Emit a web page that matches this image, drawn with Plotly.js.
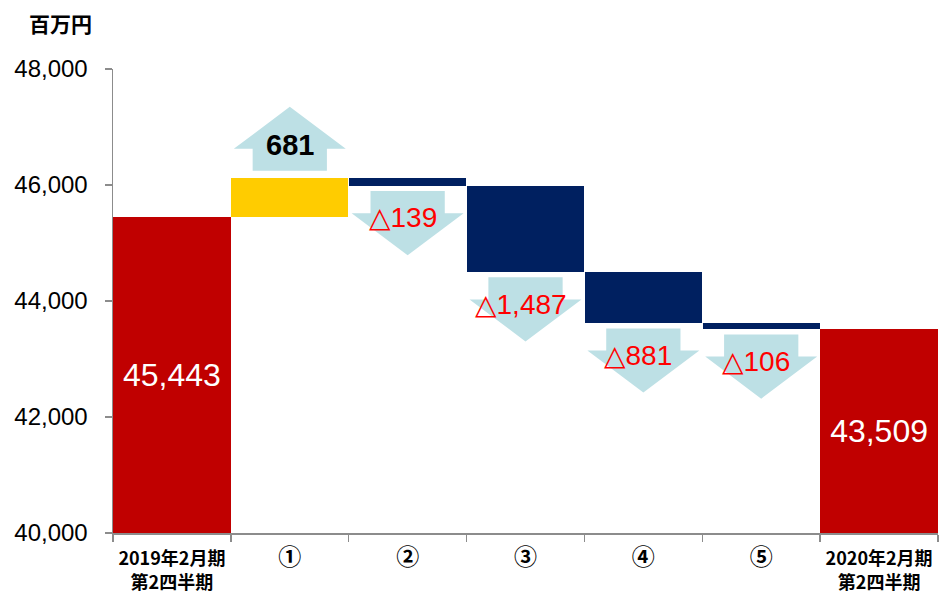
<!DOCTYPE html>
<html>
<head>
<meta charset="utf-8">
<script src="https://cdn.plot.ly/plotly-3.0.1.min.js"></script>
<style>html,body{margin:0;padding:0;background:#fff;}#chart{width:944px;height:592px;}</style>
</head>
<body>
<div id="chart"></div>
<script>
// ---- data ----
const categories = ['2019年2月期<br>第2四半期', '①', '②', '③', '④', '⑤', '2020年2月期<br>第2四半期'];
const startValue = 45443;
const changes = [681, -139, -1487, -881, -106];
const endValue = 43509;
const changeLabels = ['681', '△139', '△1,487', '△881', '△106'];
const totalLabels = ['45,443', '43,509'];
const yTicks = [40000, 42000, 44000, 46000, 48000];
const unitLabel = '百万円';

// ---- styles ----
const RED = '#C00000', YELLOW = '#FFCC00', NAVY = '#002060', ARROW = '#BDE0E5', AXIS = '#8c8c8c';
const yMin = 40000, yMax = 48000;
const FONT = '"Liberation Sans", Arial, "Noto Sans CJK JP", sans-serif';
const JFONT = '"Noto Sans CJK JP", "Liberation Sans", sans-serif';

const xs = categories.map((_, i) => i);
const traces = [];

// totals
traces.push({
  type: 'bar', x: [0, categories.length - 1],
  y: [startValue - yMin, endValue - yMin], base: [yMin, yMin],
  width: 1, marker: {color: RED, line: {width: 0}},
  text: totalLabels, textposition: 'inside', insidetextanchor: 'middle',
  textfont: {color: '#ffffff', size: 32, family: FONT}, hoverinfo: 'skip', showlegend: false
});

// changes
let running = startValue;
const incX = [], incBase = [], incY = [], decX = [], decBase = [], decY = [];
const barTop = [], barBottom = [];
changes.forEach((c, k) => {
  const i = k + 1;
  const lo = Math.min(running, running + c), hi = Math.max(running, running + c);
  if (c >= 0) { incX.push(i); incBase.push(lo); incY.push(hi - lo); }
  else { decX.push(i); decBase.push(lo); decY.push(hi - lo); }
  barTop.push(hi); barBottom.push(lo);
  running += c;
});
traces.push({type: 'bar', x: incX, y: incY, base: incBase, width: 0.99,
  marker: {color: YELLOW, line: {width: 0}}, hoverinfo: 'skip', showlegend: false});
traces.push({type: 'bar', x: decX, y: decY, base: decBase, width: 0.99,
  marker: {color: NAVY, line: {width: 0}}, hoverinfo: 'skip', showlegend: false});

// arrows (decorative), positioned relative to bars
const SHAFT_HW = 0.315, HEAD_HW = 0.475;
const GAP_DOWN = 90, GAP_UP = 120, SHAFT_LEN = 380, HEAD_LEN = 725, TEXT_OFF = 460;
const annotations = [];
function fmtLabel(s) {
  return s.replace('△', '<b><span style="font-family:DejaVu Sans">△</span></b>');
}
changes.forEach((c, k) => {
  const i = k + 1;
  let px, py, ty;
  if (c >= 0) {
    const y0 = barTop[k] + GAP_UP, y1 = y0 + SHAFT_LEN, y2 = y1 + HEAD_LEN;
    px = [i - SHAFT_HW, i + SHAFT_HW, i + SHAFT_HW, i + HEAD_HW, i, i - HEAD_HW, i - SHAFT_HW, i - SHAFT_HW];
    py = [y0, y0, y1, y1, y2, y1, y1, y0];
    ty = y0 + 440;
  } else {
    const y0 = barBottom[k] - GAP_DOWN, y1 = y0 - SHAFT_LEN, y2 = y1 - HEAD_LEN;
    px = [i - SHAFT_HW, i + SHAFT_HW, i + SHAFT_HW, i + HEAD_HW, i, i - HEAD_HW, i - SHAFT_HW, i - SHAFT_HW];
    py = [y0, y0, y1, y1, y2, y1, y1, y0];
    ty = y0 - TEXT_OFF;
  }
  traces.push({type: 'scatter', mode: 'lines', x: px, y: py, fill: 'toself',
    fillcolor: ARROW, line: {width: 0, color: ARROW}, hoverinfo: 'skip', showlegend: false});
  annotations.push({
    x: i, y: ty, xref: 'x', yref: 'y', text: c >= 0 ? changeLabels[k] : fmtLabel(changeLabels[k]),
    showarrow: false,
    xshift: c >= 0 ? 0 : -5,
    font: c >= 0 ? {family: FONT, size: 29, color: '#000000', weight: 'bold'}
                 : {family: FONT, size: 28, color: '#FF0000'}
  });
});

// unit label (top-left)
const plotW = 944 - 113 - 6, plotH = 592 - 69 - 59;
annotations.push({
  x: (27 - 113) / plotW, y: 1 + (69 - 23) / plotH, xref: 'paper', yref: 'paper',
  text: '<b>' + unitLabel + '</b>', showarrow: false,
  xanchor: 'left', yanchor: 'middle', font: {family: JFONT, size: 21, color: '#000'}
});

const bounds = categories.map((_, i) => i - 0.5).concat([categories.length - 0.5]);
const tickText = categories.map(t => /^[①-⑳]$/.test(t)
  ? '<b><span style="font-size:23px">' + t + '</span></b>'
  : '<b>' + t + '</b>');

const layout = {
  width: 944, height: 592,
  margin: {l: 113, r: 6, t: 69, b: 59},
  paper_bgcolor: '#ffffff', plot_bgcolor: '#ffffff',
  barmode: 'overlay', bargap: 0,
  showlegend: false,
  xaxis: {
    range: [-0.5, categories.length - 0.5], tickmode: 'array', tickvals: xs,
    ticktext: tickText,
    ticks: '', showgrid: false, zeroline: false, fixedrange: true,
    showline: true, linecolor: AXIS, linewidth: 1.5,
    tickfont: {family: JFONT, size: 18, color: '#000'},
    ticklabelstandoff: 9,
    minor: {tickmode: 'array', tickvals: bounds, ticks: 'outside', ticklen: 7, tickcolor: AXIS, tickwidth: 1.5, showgrid: false}
  },
  yaxis: {
    range: [yMin, yMax], tickmode: 'array', tickvals: yTicks,
    tickformat: ',d', ticks: 'outside', ticklen: 7, tickcolor: AXIS, tickwidth: 1.5,
    showline: true, linecolor: AXIS, linewidth: 1.5, showgrid: false, zeroline: false,
    tickfont: {family: FONT, size: 24, color: '#000'}, ticklabelstandoff: 12
  },
  annotations: annotations
};

Plotly.newPlot('chart', traces, layout, {displayModeBar: false, staticPlot: true});
</script>
</body>
</html>
